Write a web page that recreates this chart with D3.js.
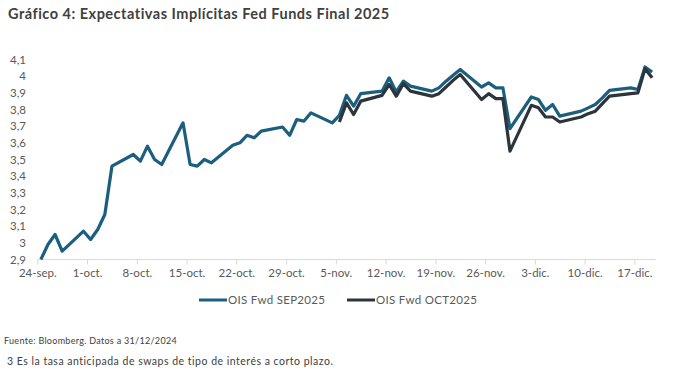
<!DOCTYPE html>
<html>
<head>
<meta charset="utf-8">
<script src="https://cdn.jsdelivr.net/npm/d3@7"></script>
<style>
  body { margin: 0; background: #fff; }
  svg text { font-family: "Lato", "Open Sans", sans-serif; }
</style>
</head>
<body>
<svg id="chart" width="674" height="374"></svg>
<script>
// fechas (días hábiles) y valores
const fechas = [
  '2024-09-24','2024-09-25','2024-09-26','2024-09-27','2024-09-30',
  '2024-10-01','2024-10-02','2024-10-03','2024-10-04','2024-10-07',
  '2024-10-08','2024-10-09','2024-10-10','2024-10-11','2024-10-14',
  '2024-10-15','2024-10-16','2024-10-17','2024-10-18','2024-10-21',
  '2024-10-22','2024-10-23','2024-10-24','2024-10-25','2024-10-28',
  '2024-10-29','2024-10-30','2024-10-31','2024-11-01','2024-11-04',
  '2024-11-05','2024-11-06','2024-11-07','2024-11-08','2024-11-11',
  '2024-11-12','2024-11-13','2024-11-14','2024-11-15','2024-11-18',
  '2024-11-19','2024-11-20','2024-11-21','2024-11-22','2024-11-25',
  '2024-11-26','2024-11-27','2024-11-28','2024-11-29','2024-12-02',
  '2024-12-03','2024-12-04','2024-12-05','2024-12-06','2024-12-09',
  '2024-12-10','2024-12-11','2024-12-12','2024-12-13','2024-12-16',
  '2024-12-17','2024-12-18','2024-12-19'
]

const oisSep = [
  2.90, 2.99, 3.05, 2.95, 3.07,
  3.02, 3.08, 3.17, 3.46, 3.53,
  3.49, 3.58, 3.50, 3.47, 3.72,
  3.47, 3.46, 3.50, 3.48, 3.585,
  3.60, 3.645, 3.63, 3.67, 3.695,
  3.645, 3.74, 3.73, 3.78, 3.72,
  3.765, 3.885, 3.82, 3.895, 3.91,
  3.99, 3.905, 3.97, 3.94, 3.91,
  3.93, 3.97, 4.005, 4.04, 3.935,
  3.96, 3.93, 3.93, 3.685, 3.875,
  3.86, 3.795, 3.83, 3.76, 3.79,
  3.81, 3.83, 3.87, 3.915, 3.93,
  3.92, 4.055, 4.025
]

const oisOct = [
  null, null, null, null, null,
  null, null, null, null, null,
  null, null, null, null, null,
  null, null, null, null, null,
  null, null, null, null, null,
  null, null, null, null, null,
  3.725, 3.84, 3.77, 3.85, 3.885,
  3.95, 3.88, 3.955, 3.91, 3.88,
  3.895, 3.935, 3.975, 4.01, 3.86,
  3.895, 3.865, 3.865, 3.55, 3.825,
  3.81, 3.755, 3.755, 3.725, 3.755,
  3.775, 3.79, 3.835, 3.88, 3.895,
  3.90, 4.045, 3.99
]

const series = ['OIS Fwd SEP2025', 'OIS Fwd OCT2025']
const colores = ['#1b5e7d', '#2b353b']

const ticksY = [2.9, 3, 3.1, 3.2, 3.3, 3.4, 3.5, 3.6, 3.7, 3.8, 3.9, 4, 4.1]
const ticksX = ['2024-09-24','2024-10-01','2024-10-08','2024-10-15','2024-10-22','2024-10-29',
  '2024-11-05','2024-11-12','2024-11-19','2024-11-26','2024-12-03','2024-12-10','2024-12-17']
const etiquetasX = ['24-sep.','1-oct.','8-oct.','15-oct.','22-oct.','29-oct.',
  '5-nov.','12-nov.','19-nov.','26-nov.','3-dic.','10-dic.','17-dic.']

const parse = d3.timeParse('%Y-%m-%d')
const svg = d3.select('#chart')

// Título
svg.append('text')
  .attr('x', 8).attr('y', 19)
  .attr('fill', '#404040')
  .attr('font-size', 14.5).attr('font-weight', 'bold')
  .attr('letter-spacing', 0.5)
  .text('Gráfico 4: Expectativas Implícitas Fed Funds Final 2025')

const x = d3.scaleTime()
  .domain([parse('2024-09-24'), parse('2024-12-20')])
  .range([37.3, 655.7])
const y = d3.scaleLinear().domain([2.9, 4.1]).range([259.5, 59.5])

// los puntos caen a mitad de día (eje de fechas "entre marcas")
const xPunto = d => x(d3.timeHour.offset(parse(d), 12))

// Eje X
const axisX = d3.axisBottom(x)
  .tickValues(ticksX.map(parse))
  .tickSize(5).tickPadding(4)
  .tickFormat((d, i) => etiquetasX[i])
const gx = svg.append('g').attr('transform', 'translate(0,' + y(2.9) + ')').call(axisX)
gx.select('.domain').attr('stroke', '#d9d9d9').attr('d', 'M' + x.range()[0] + ',0H' + x.range()[1])
gx.selectAll('.tick line').attr('stroke', '#d9d9d9')
gx.selectAll('.tick text').attr('fill', '#595959').attr('font-size', 11.5)
  .style('font-family', '"Lato", sans-serif')

// Eje Y (sólo etiquetas)
const axisY = d3.axisLeft(y)
  .tickValues(ticksY).tickSize(0).tickPadding(0)
  .tickFormat(d => d3.format('.1~f')(d).replace('.', ','))
const gy = svg.append('g').attr('transform', 'translate(26,0)').call(axisY)
gy.select('.domain').remove()
gy.selectAll('.tick text').attr('fill', '#595959').attr('font-size', 11.5)
  .style('font-family', '"Lato", sans-serif')

// Líneas
const valores = [oisSep, oisOct]
valores.forEach((vals, k) => {
  const pts = fechas.map((f, i) => ({ f: f, v: vals[i] }))
  const line = d3.line()
    .defined(d => d.v != null)
    .x(d => xPunto(d.f))
    .y(d => y(d.v))
  svg.append('path')
    .datum(pts)
    .attr('fill', 'none')
    .attr('stroke', colores[k])
    .attr('stroke-width', 3.2)
    .attr('stroke-linejoin', 'round')
    .attr('d', line)
})

// Leyenda
const leg = svg.append('g').attr('transform', 'translate(0,300)')
const legX = [199, 347]
series.forEach((s, k) => {
  leg.append('line')
    .attr('x1', legX[k]).attr('x2', legX[k] + 28)
    .attr('y1', 0).attr('y2', 0)
    .attr('stroke', colores[k]).attr('stroke-width', 3)
  leg.append('text')
    .attr('x', legX[k] + 29).attr('y', 4)
    .attr('fill', '#595959').attr('font-size', 11.5)
    .attr('letter-spacing', 0.3)
    .text(s)
})

// Notas
svg.append('text')
  .attr('x', 4).attr('y', 344)
  .attr('fill', '#404040').attr('font-size', 9)
  .attr('letter-spacing', 0.3)
  .text('Fuente: Bloomberg. Datos a 31/12/2024')
svg.append('text')
  .attr('x', 7).attr('y', 365)
  .attr('fill', '#404040').attr('font-size', 10.5)
  .attr('letter-spacing', 0.5)
  .text('3 Es la tasa anticipada de swaps de tipo de interés a corto plazo.')
</script>
</body>
</html>
